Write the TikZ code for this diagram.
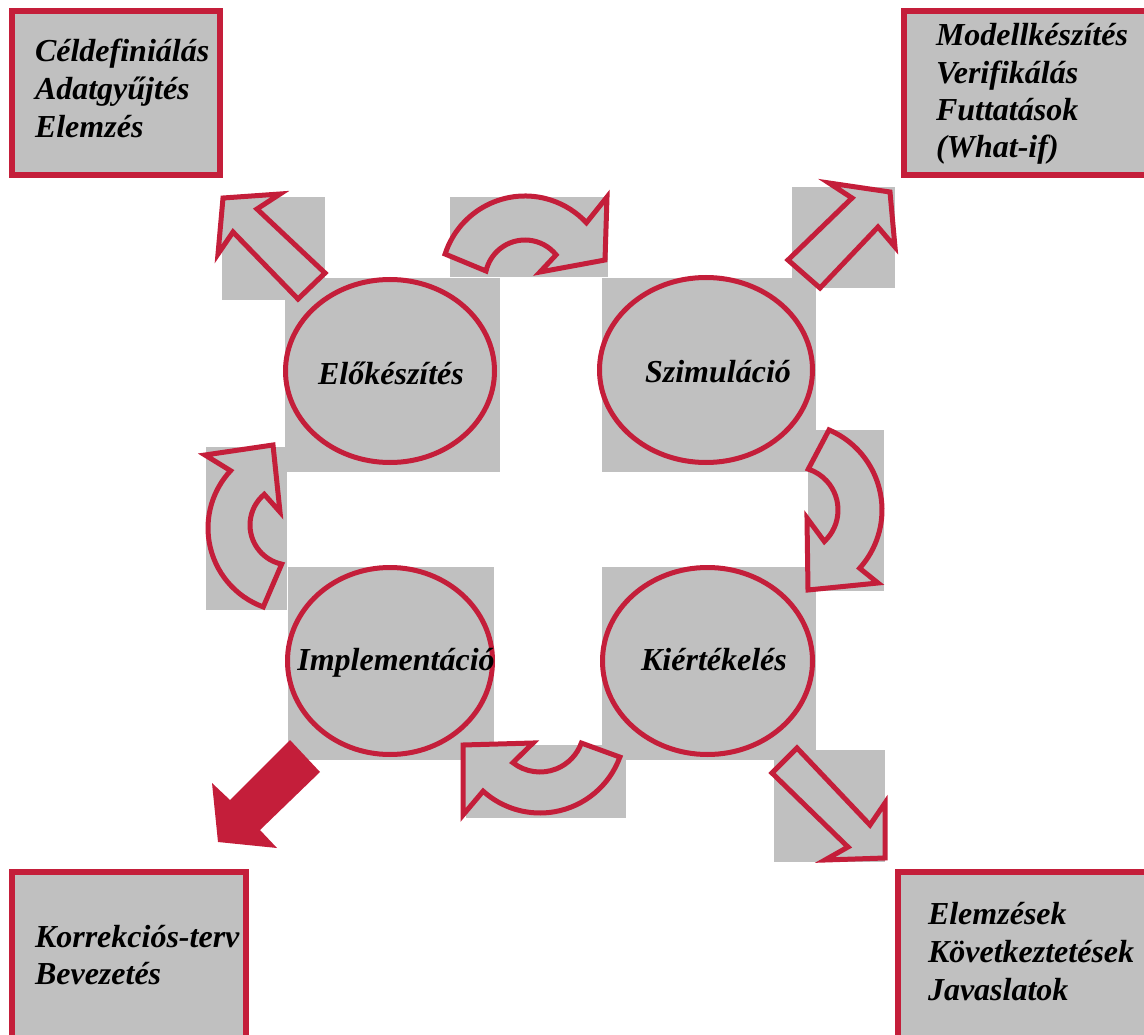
\documentclass[tikz,border=0pt]{standalone}
\usepackage{fontspec}
\setmainfont{Liberation Serif}
\usetikzlibrary{shapes.geometric,calc}
\definecolor{crimson}{RGB}{196,30,58}
\definecolor{panelgray}{RGB}{192,192,192}

\begin{document}
\begin{tikzpicture}[x=1pt,y=-1pt,
  every node/.style={inner sep=0pt, outer sep=0pt},
  panel/.style={fill=panelgray, draw=none},
  infobox/.style={fill=panelgray, draw=crimson, line width=6pt},
  phase/.style={ellipse, fill=panelgray, draw=crimson, line width=5pt},
  blockarrow/.style={fill=panelgray, draw=crimson, line width=5pt, line join=miter},
  solidarrow/.style={fill=crimson, draw=none},
  boxtext/.style={font=\fontsize{32}{38}\selectfont\bfseries\itshape, anchor=base west},
  phasetext/.style={font=\fontsize{32}{38}\selectfont\bfseries\itshape, anchor=base},
]
\useasboundingbox (0,0) rectangle (1144,1035);
\clip (0,0) rectangle (1144,1035);

% corner boxes
\draw[infobox] (11.5,11.5) rectangle (220,175);
\draw[infobox] (904,10.7) rectangle (1160,175);
\draw[infobox] (11.5,871.5) rectangle (246,1050);
\draw[infobox] (898,871.7) rectangle (1160,1050);

\node[boxtext] (tl1) at (35,62) {Céldefiniálás};
\node[boxtext] (tl2) at (35,100) {Adatgyűjtés};
\node[boxtext] (tl3) at (35,138) {Elemzés};

\node[boxtext] (tr1) at (936,46) {Modellkészítés};
\node[boxtext] (tr2) at (936,83.5) {Verifikálás};
\node[boxtext] (tr3) at (936,121) {Futtatások};
\node[boxtext] (tr4) at (936,158) {(What-if)};

\node[boxtext] (bl1) at (35,947) {Korrekciós-terv};
\node[boxtext] (bl2) at (35,984) {Bevezetés};

\node[boxtext] (br1) at (928,924) {Elemzések};
\node[boxtext] (br2) at (928,962.5) {Következtetések};
\node[boxtext] (br3) at (928,1000) {Javaslatok};

% gray backing squares
\fill[panel] (285,278) rectangle (500,472);
\fill[panel] (602,278) rectangle (816,472);
\fill[panel] (288,567) rectangle (494,760);
\fill[panel] (602,567) rectangle (816,760);
\fill[panel] (222,197) rectangle (325,300);
\fill[panel] (792,187) rectangle (895,288);
\fill[panel] (774,750) rectangle (885,862);
\fill[panel] (450,197) rectangle (608,277);
\fill[panel] (808,430) rectangle (884,591);
\fill[panel] (466,745) rectangle (626,818);
\fill[panel] (206,447) rectangle (287,610);

% phases
\node[phase, minimum width=209pt, minimum height=183pt] (elo) at (390,371) {};
\node[phase, minimum width=213pt, minimum height=185pt] (szim) at (706,370) {};
\node[phase, minimum width=205pt, minimum height=187pt] (impl) at (390,661) {};
\node[phase, minimum width=210pt, minimum height=187pt] (kiert) at (707.5,661) {};

\node[phasetext] (eloT) at (391,384) {Előkészítés};
\node[phasetext] (szimT) at (718,382) {Szimuláció};
\node[phasetext] (implT) at (396,670) {Implementáció};
\node[phasetext] (kiertT) at (714,670) {Kiértékelés};

% straight block arrows
\draw[blockarrow] (223,198) -- (218,254) -- (233,232) -- (298,299) -- (325,273) -- (257,209) -- (280,194) -- cycle;
\draw[blockarrow] (890,192) -- (829,183) -- (852,198) -- (788,260) -- (820,288) -- (878,227) -- (895,247) -- cycle;
\draw[blockarrow] (885,858) -- (885,803) -- (870,825) -- (797,748) -- (772,773) -- (848,847) -- (825,860) -- cycle;
\fill[solidarrow] (218,842) -- (212,783) -- (230,800) -- (290,740) -- (320,772) -- (260,830) -- (277,848) -- cycle;

% curved block arrows of the cycle
\coordinate (c1) at (525,280);
\coordinate (c2) at (795,510);
\coordinate (c3) at (540,728);
\coordinate (c4) at (292,528);
\coordinate (c5) at (290,525);

\draw[blockarrow] ($(c1)+(198:84)$) arc[start angle=198, end angle=317, radius=84]
  -- (607,197) -- (605,260) -- (540,272)
  -- ($(c1)+(321:40)$) arc[start angle=321, end angle=193, radius=40] -- cycle;

\draw[blockarrow] ($(c2)+(-67:87)$) arc[start angle=-67, end angle=42, radius=87]
  -- (878,583) -- (808,590) -- (807,518)
  -- ($(c2)+(47:43)$) arc[start angle=47, end angle=-72, radius=43] -- cycle;

\draw[blockarrow] ($(c3)+(20:85)$) arc[start angle=20, end angle=132, radius=85]
  -- (463,815) -- (463,745) -- (533,743)
  -- ($(c3)+(128:44)$) arc[start angle=128, end angle=20, radius=44] -- cycle;

\draw[blockarrow] ($(c4)+(110:84)$) arc[start angle=110, end angle=223, radius=84]
  -- (205,455) -- (273,445) -- (280,512)
  -- ($(c5)+(230:40)$) arc[start angle=230, end angle=102, radius=40] -- cycle;
\end{tikzpicture}
\end{document}
